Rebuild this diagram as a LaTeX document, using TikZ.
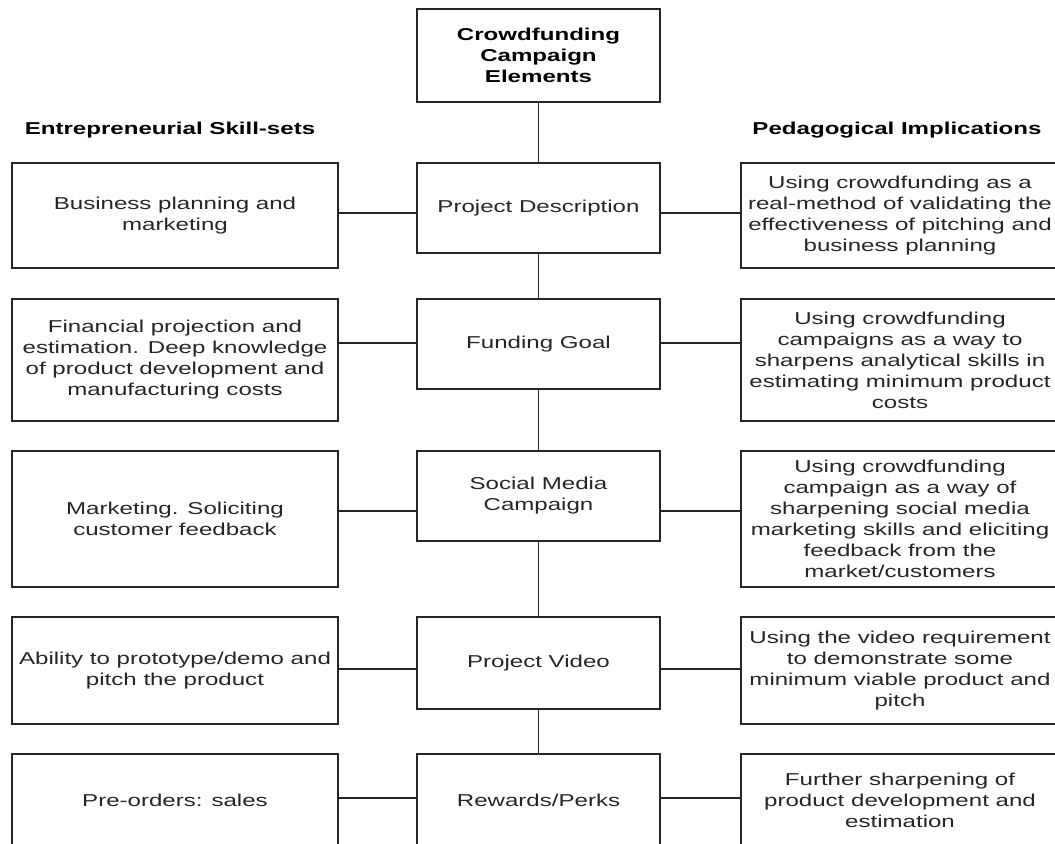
\documentclass[tikz,border=0pt]{standalone}
\usepackage{fontspec}
\setmainfont{Liberation Sans}[FakeStretch=1.4]

\begin{document}
\begin{tikzpicture}[%
        x = 0.75pt,
        y = -0.75pt,
        line width = 0.9pt,
        line cap = round,
        box/.style = {draw = black!85, rectangle, anchor = north west,
            inner sep = 0pt, outer sep = 0pt, align = center,
            font = \fontsize{12.9}{15.75}\selectfont, text = black!85},
        skill/.style = {box, minimum width = 244.5pt},
        element/.style = {box, minimum width = 182.25pt, minimum height = 67.5pt},
        implication/.style = {box, minimum width = 238.5pt},
        heading/.style = {font = \fontsize{12.9}{15.75}\bfseries, text = black}
    ]

        % Fix the page to the size of the picture.
        \useasboundingbox (0, 0) rectangle (1055, 843);
        \clip (0, 0) rectangle (1055, 843);

        % The title box and the two column headings.
        \node[box, heading, minimum width = 182.25pt, minimum height = 69.75pt]
            (title) at (417, 9) {Crowdfunding\\Campaign\\Elements};
        \node[heading] (skillhead) at (170, 130) {Entrepreneurial Skill-sets};
        \node[heading] (implhead) at (897, 130) {Pedagogical Implications};

        % The campaign elements down the middle.
        \node[element] (description) at (417, 163) {Project Description};
        \node[element] (goal) at (417, 299) {Funding Goal};
        \node[element] (social) at (417, 451) {Social Media\\Campaign};
        \node[element, minimum height = 69pt] (video) at (417, 617) {Project Video};
        \node[element, minimum height = 69pt] (rewards) at (417, 754) {Rewards/Perks};

        % The skill-sets on the left.
        \node[skill, minimum height = 78.75pt] (planning) at (12, 163)
            {Business planning and\\marketing};
        \node[skill, minimum height = 91.5pt] (finance) at (12, 299)
            {Financial projection and\\estimation. Deep knowledge\\of product development and\\manufacturing costs};
        \node[skill, minimum height = 102pt] (marketing) at (12, 451)
            {Marketing. Soliciting\\customer feedback};
        \node[skill, minimum height = 80.25pt] (prototype) at (12, 617)
            {Ability to prototype/demo and\\pitch the product};
        \node[skill, minimum height = 69pt] (preorders) at (12, 754)
            {Pre-orders: sales};

        % The implications on the right.
        \node[implication, minimum height = 78.75pt] (validating) at (741, 163)
            {Using crowdfunding as a\\real-method of validating the\\effectiveness of pitching and\\business planning};
        \node[implication, minimum height = 91.5pt] (analytical) at (741, 299)
            {Using crowdfunding\\campaigns as a way to\\sharpens analytical skills in\\estimating minimum product\\costs};
        \node[implication, minimum height = 102pt] (feedback) at (741, 451)
            {Using crowdfunding\\campaign as a way of\\sharpening social media\\marketing skills and eliciting\\feedback from the\\market/customers};
        \node[implication, minimum height = 80.25pt] (demonstrate) at (741, 617)
            {Using the video requirement\\to demonstrate some\\minimum viable product and\\pitch};
        \node[implication, minimum height = 69pt] (sharpening) at (741, 754)
            {Further sharpening of\\product development and\\estimation};

        % The trunk joining the elements.
        \draw[black!85] (title) -- (description);
        \draw[black!85] (description) -- (goal);
        \draw[black!85] (goal) -- (social);
        \draw[black!85] (social) -- (video);
        \draw[black!85] (video) -- (rewards);

        % Heights of the side links.
        \coordinate (linkA) at (0, 213);
        \coordinate (linkB) at (0, 343);
        \coordinate (linkC) at (0, 511);
        \coordinate (linkD) at (0, 669);
        \coordinate (linkE) at (0, 798);

        % Side links from each element to its skill-set and implication.
        \draw[black!85] (planning.east |- linkA) -- (description.west |- linkA);
        \draw[black!85] (description.east |- linkA) -- (validating.west |- linkA);
        \draw[black!85] (finance.east |- linkB) -- (goal.west |- linkB);
        \draw[black!85] (goal.east |- linkB) -- (analytical.west |- linkB);
        \draw[black!85] (marketing.east |- linkC) -- (social.west |- linkC);
        \draw[black!85] (social.east |- linkC) -- (feedback.west |- linkC);
        \draw[black!85] (prototype.east |- linkD) -- (video.west |- linkD);
        \draw[black!85] (video.east |- linkD) -- (demonstrate.west |- linkD);
        \draw[black!85] (preorders.east |- linkE) -- (rewards.west |- linkE);
        \draw[black!85] (rewards.east |- linkE) -- (sharpening.west |- linkE);
    \end{tikzpicture}
\end{document}
